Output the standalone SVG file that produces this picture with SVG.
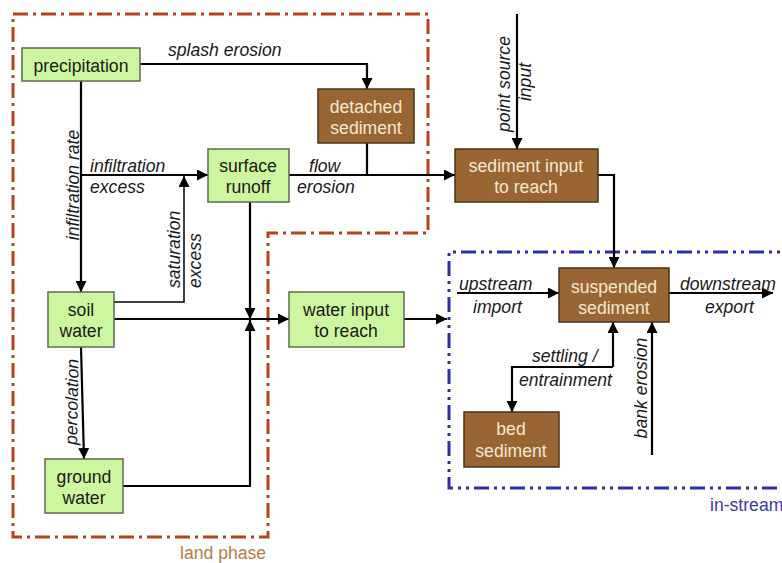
<svg xmlns="http://www.w3.org/2000/svg" width="782" height="563" viewBox="0 0 782 563">
<defs>
<marker id="ah" markerUnits="userSpaceOnUse" markerWidth="11" markerHeight="11" refX="10" refY="5" orient="auto" viewBox="0 0 10 10">
<path d="M0,0 L10,5 L0,10 z" fill="#000"/>
</marker>
</defs>
<style>
text{font-family:"Liberation Sans",Arial,sans-serif;font-size:17.6px}
.g{fill:#ccf79e;stroke:#5b6b4e;stroke-width:1.5}
.b{fill:#996633;stroke:#4a3319;stroke-width:1.5}
.gt{fill:#1a1a1a;text-anchor:middle}
.bt{fill:#f5e8cf;text-anchor:middle}
.lb{fill:#1a1a1a;font-style:italic}
.c{fill:none;stroke:#000;stroke-width:2.2}
.a{marker-end:url(#ah)}
.land{fill:none;stroke:#b5431c;stroke-width:3;stroke-dasharray:15 5 3 5}
.inst{fill:none;stroke:#2e2ea6;stroke-width:3;stroke-dasharray:15 5 3 5 3 5}
</style>
<rect width="782" height="563" fill="#fff"/>
<g id="regions">
<path class="land" d="M13,14 H428 V233 H268 V537 H13 Z"/>
<path class="inst" d="M800,252 H449 V488 H800"/>
<text x="180" y="559" fill="#b97a4a">land phase</text>
<text x="710" y="511" fill="#3a3aa8">in-stream</text>
</g>
<g id="connectors">
<path class="c a" d="M140,64 H367 V89"/>
<path class="c a" d="M81,81 V292"/>
<path class="c a" d="M81,175 H208"/>
<path class="c a" d="M114,302 H184 V176" style="stroke-width:1.5"/>
<path class="c" d="M367,143 V175"/>
<path class="c a" d="M289,175 H455"/>
<path class="c a" d="M250,202 V319"/>
<path class="c a" d="M114,319 H289"/>
<path class="c a" d="M81,347 L84,459"/>
<path class="c a" d="M123,486 H250 V320"/>
<path class="c a" d="M404,319 H447"/>
<path class="c a" d="M517,14 V149"/>
<path class="c a" d="M598,175 H614 V268"/>
<path class="c a" d="M457,293 H559"/>
<path class="c a" d="M669,293 H773"/>
<path class="c a" d="M613,367 V322"/>
<path class="c a" d="M613,367 H512 V412"/>
<path class="c a" d="M652,455 V322"/>
</g>
<g id="labels">
<text class="lb" x="168" y="56">splash erosion</text>
<text class="lb" x="90" y="172">infiltration</text>
<text class="lb" x="90" y="193">excess</text>
<text class="lb" x="309" y="172">flow</text>
<text class="lb" x="297" y="193">erosion</text>
<text class="lb" transform="translate(79,185) rotate(-90)" text-anchor="middle">infiltration rate</text>
<text class="lb" transform="translate(180,288) rotate(-90)">saturation</text>
<text class="lb" transform="translate(201,288) rotate(-90)">excess</text>
<text class="lb" transform="translate(77,445) rotate(-89)">percolation</text>
<text class="lb" transform="translate(510,84) rotate(-90)" text-anchor="middle">point source</text>
<text class="lb" transform="translate(531,82) rotate(-90)" text-anchor="middle">input</text>
<text class="lb" transform="translate(647,388) rotate(-90)" text-anchor="middle">bank erosion</text>
<text class="lb" x="459" y="290">upstream</text>
<text class="lb" x="473" y="313">import</text>
<text class="lb" x="680" y="290">downstream</text>
<text class="lb" x="705" y="313">export</text>
<text class="lb" x="532" y="362">settling /</text>
<text class="lb" x="519" y="386">entrainment</text>
</g>
<g id="precipitation">
<rect class="g" x="22" y="48" width="118" height="33"/>
<text class="gt" x="81" y="72">precipitation</text>
</g>
<g id="detached-sediment">
<rect class="b" x="318" y="89" width="96" height="54"/>
<text class="bt" x="366" y="113">detached</text>
<text class="bt" x="366" y="134">sediment</text>
</g>
<g id="surface-runoff">
<rect class="g" x="208" y="149" width="81" height="53"/>
<text class="gt" x="248" y="172">surface</text>
<text class="gt" x="248" y="193">runoff</text>
</g>
<g id="soil-water">
<rect class="g" x="48" y="292" width="66" height="55"/>
<text class="gt" x="81" y="316">soil</text>
<text class="gt" x="81" y="337">water</text>
</g>
<g id="ground-water">
<rect class="g" x="45" y="459" width="78" height="54"/>
<text class="gt" x="84" y="483">ground</text>
<text class="gt" x="84" y="504">water</text>
</g>
<g id="water-input">
<rect class="g" x="289" y="292" width="115" height="55"/>
<text class="gt" x="346" y="316">water input</text>
<text class="gt" x="346" y="337">to reach</text>
</g>
<g id="sediment-input">
<rect class="b" x="455" y="149" width="143" height="53"/>
<text class="bt" x="526" y="172">sediment input</text>
<text class="bt" x="526" y="193">to reach</text>
</g>
<g id="suspended-sediment">
<rect class="b" x="559" y="268" width="110" height="54"/>
<text class="bt" x="614" y="293">suspended</text>
<text class="bt" x="614" y="314">sediment</text>
</g>
<g id="bed-sediment">
<rect class="b" x="464" y="412" width="95" height="55"/>
<text class="bt" x="511" y="435">bed</text>
<text class="bt" x="511" y="457">sediment</text>
</g>
</svg>
